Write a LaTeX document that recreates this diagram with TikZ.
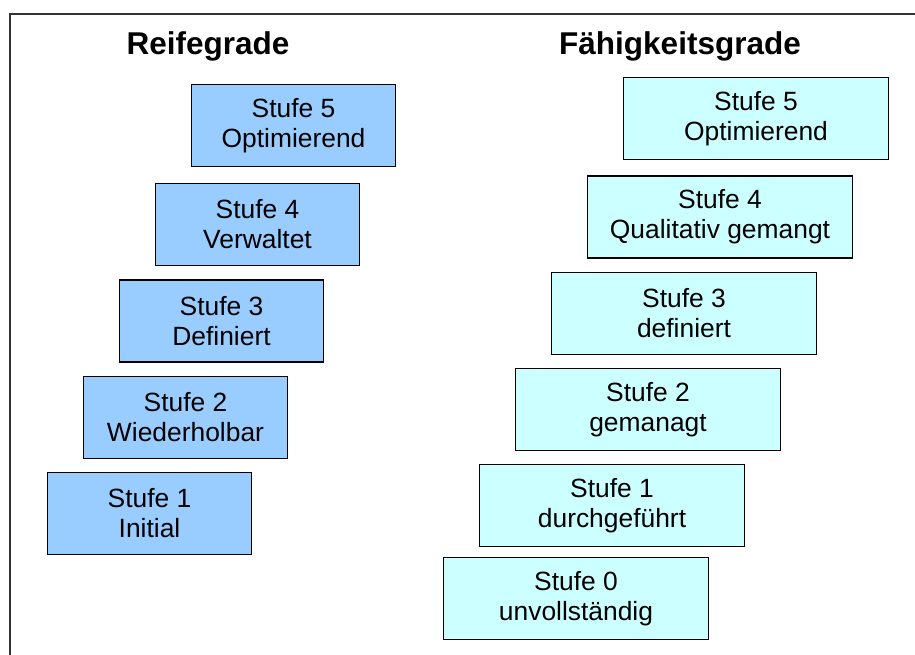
\documentclass[tikz,border=0pt]{standalone}
\usepackage{fontspec}
\setmainfont{Liberation Sans}
\definecolor{reifeblue}{HTML}{99CCFF}
\definecolor{faehigcyan}{HTML}{CCFFFF}
\begin{document}
\begin{tikzpicture}[x=1pt,y=-1pt,
  stage/.style={draw=black, line width=1.8pt, minimum height=82pt, inner sep=0pt,
    align=center, font=\fontsize{26.4}{30}\selectfont},
  reife/.style={stage, fill=reifeblue, minimum width=204pt},
  faehig/.style={stage, fill=faehigcyan, minimum width=265pt},
  heading/.style={anchor=base, inner sep=0pt, font=\fontsize{31.5}{36}\selectfont\bfseries}]
\useasboundingbox (0,0) rectangle (915,655);

% open frame: top and left edges
\coordinate (fbl) at (10,655);
\coordinate (ftl) at (10,14);
\coordinate (ftr) at (915,14);
\draw[black!80, line width=1.5pt] (fbl) -- (ftl) -- (ftr);

% headings
\node[heading] (hreife) at (208,55) {Reifegrade};
\node[heading] (hfaehig) at (680,55) {Fähigkeitsgrade};

% maturity levels
\node[reife] (r5) at (293.5,125.5) {Stufe 5\\Optimierend};
\node[reife] (r4) at (257.5,224.5) {Stufe 4\\Verwaltet};
\node[reife] (r3) at (221.5,321) {Stufe 3\\Definiert};
\node[reife] (r2) at (185.5,417.5) {Stufe 2\\Wiederholbar};
\node[reife] (r1) at (149.5,513.5) {Stufe 1\\Initial};

% capability levels
\node[faehig] (f5) at (756,118.5) {Stufe 5\\Optimierend};
\node[faehig] (f4) at (720,217) {Stufe 4\\Qualitativ gemangt};
\node[faehig] (f3) at (684,313.5) {Stufe 3\\definiert};
\node[faehig] (f2) at (648,409.5) {Stufe 2\\gemanagt};
\node[faehig] (f1) at (612,505.5) {Stufe 1\\durchgeführt};
\node[faehig] (f0) at (576,598.5) {Stufe 0\\unvollständig};
\end{tikzpicture}
\end{document}
